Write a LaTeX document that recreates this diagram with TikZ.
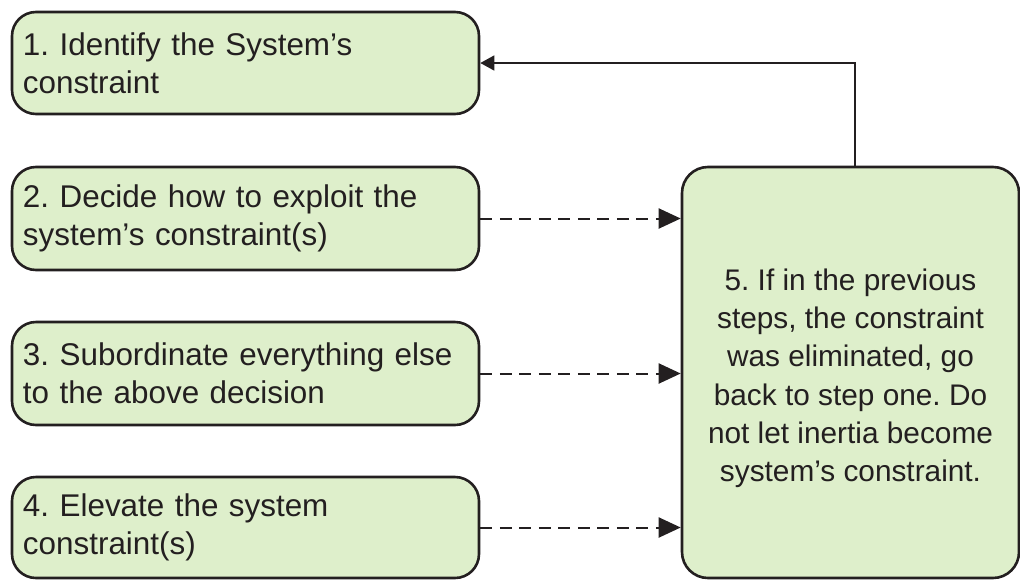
\documentclass[tikz,border=0pt]{standalone}
\usepackage{fontspec}
\setmainfont{Liberation Sans}
\frenchspacing
\usetikzlibrary{arrows.meta}
\definecolor{boxfill}{HTML}{DEEFCB}
\definecolor{ink}{HTML}{231F20}
\begin{document}
\begin{tikzpicture}[x=1pt,y=-1pt,
  stepbox/.style={draw=ink, fill=boxfill, line width=2.6pt, rounded corners=24pt,
    minimum width=467pt, text width=445pt, inner xsep=11pt, align=left,
    font=\fontsize{31.4}{38}\selectfont, text=ink},
  bigbox/.style={draw=ink, fill=boxfill, line width=2.6pt, rounded corners=26pt,
    minimum width=337pt, minimum height=411pt, align=center,
    font=\fontsize{29.8}{38.2}\selectfont, text=ink},
  dasharrow/.style={draw=ink, line width=2pt, dash pattern=on 12pt off 7.5pt,
    -{Triangle[length=22pt,width=20pt]}},
  backarrow/.style={draw=ink, line width=1.4pt, -{Triangle[length=14pt,width=15pt]}}]
\useasboundingbox (0,0) rectangle (1020,579);
\node[stepbox, minimum height=102pt] (s1) at (245.5,63) {1. Identify the System’s\\constraint};
\node[stepbox, minimum height=103pt] (s2) at (245.5,218.5) {2. Decide how to exploit the\\system’s constraint(s)};
\node[stepbox, minimum height=103pt] (s3) at (245.5,373.5) {3. Subordinate everything else\\to the above decision};
\node[stepbox, minimum height=101pt] (s4) at (245.5,527.5) {4. Elevate the system\\constraint(s)};
\node[bigbox] (s5) at (850.5,372.5) {\rule{0pt}{33pt}5. If in the previous\\steps, the constraint\\was eliminated, go\\back to step one. Do\\not let inertia become\\system’s constraint.};
\coordinate (c2) at (s5.west |- s2.east);
\coordinate (c3) at (s5.west |- s3.east);
\coordinate (c4) at (s5.west |- s4.east);
\draw[dasharrow] (s2.east) -- (c2);
\draw[dasharrow] (s3.east) -- (c3);
\draw[dasharrow] (s4.east) -- (c4);
\coordinate (up) at (855,63);
\draw[backarrow] (s5.north -| up) -- (up) -- (s1.east);
\end{tikzpicture}
\end{document}
